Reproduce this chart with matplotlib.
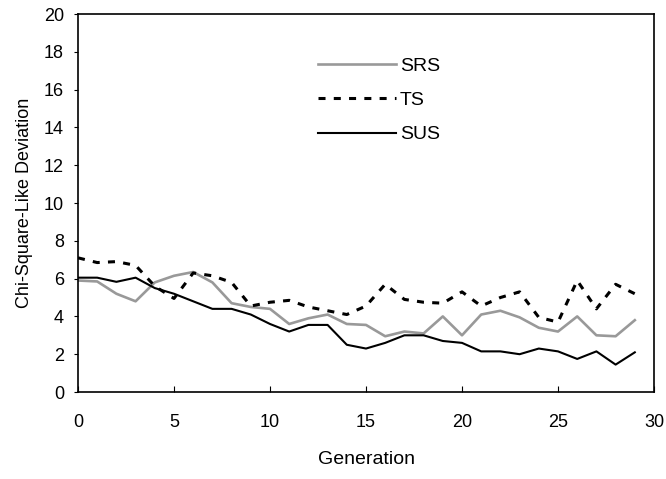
import numpy as np
import matplotlib
matplotlib.use("Agg")
import matplotlib.pyplot as plt

plt.rcParams['font.family'] = ['Liberation Sans', 'DejaVu Sans']

generation = list(range(30))
srs = [5.9, 5.85, 5.2, 4.8, 5.8, 6.15, 6.35, 5.8, 4.7, 4.5,
       4.4, 3.6, 3.9, 4.1, 3.6, 3.55, 2.95, 3.2, 3.1, 4.0,
       3.0, 4.1, 4.3, 3.95, 3.4, 3.2, 4.0, 3.0, 2.95, 3.8]
ts = [7.1, 6.85, 6.9, 6.7, 5.6, 4.95, 6.3, 6.15, 5.8, 4.55,
      4.75, 4.85, 4.5, 4.3, 4.1, 4.55, 5.7, 4.9, 4.75, 4.7,
      5.3, 4.55, 5.0, 5.3, 3.95, 3.7, 5.9, 4.4, 5.7, 5.2]
sus = [6.05, 6.05, 5.83, 6.05, 5.5, 5.2, 4.8, 4.4, 4.4, 4.1,
       3.6, 3.2, 3.55, 3.55, 2.5, 2.3, 2.6, 3.0, 3.0, 2.7,
       2.6, 2.15, 2.15, 2.0, 2.3, 2.15, 1.75, 2.15, 1.45, 2.1]

fig = plt.figure(figsize=(6.66, 4.79), dpi=100)
ax = fig.add_axes([0.1171, 0.1816, 0.8649, 0.7891])

ax.plot(generation, srs, color='#999999', lw=1.9, label='SRS')
ax.plot(generation, ts, color='black', lw=2.2, ls=(0, (2.3, 2.7)), label='TS')
ax.plot(generation, sus, color='black', lw=1.5, label='SUS')

ax.set_xlim(0, 30)
ax.set_ylim(0, 20)
ax.set_xticks(range(0, 31, 5))
ax.set_yticks(range(0, 21, 2))
ax.tick_params(axis='x', direction='in', length=4, labelsize=13, pad=16)
ax.tick_params(axis='y', direction='out', length=3, labelsize=13, pad=7)
for s in ax.spines.values():
    s.set_linewidth(1.2)

ax.set_xlabel('Generation', fontsize=14, labelpad=14)
ax.set_ylabel('Chi-Square-Like Deviation', fontsize=13, labelpad=8)

ax.legend(loc='upper left', bbox_to_anchor=(0.4167, 0.885), frameon=False,
          borderpad=0, borderaxespad=0,
          fontsize=14, handlelength=4.0, handletextpad=0.2, labelspacing=0.85)

fig.savefig('out.png', dpi=100)
